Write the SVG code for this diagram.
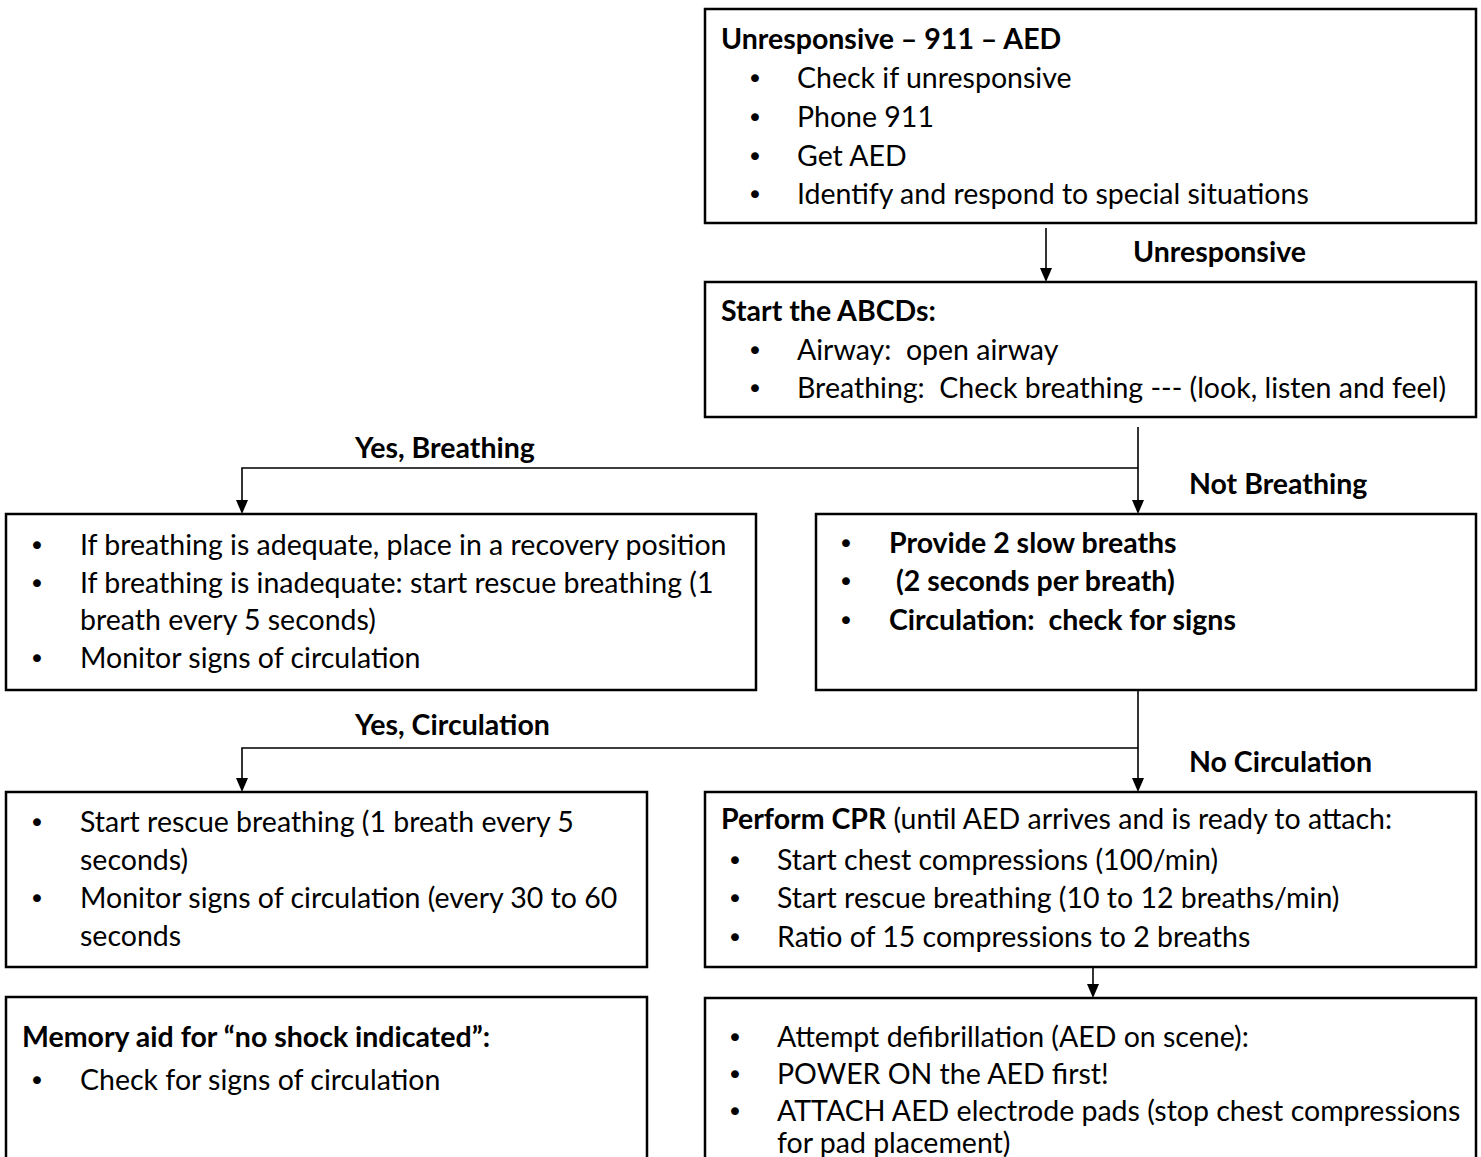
<svg xmlns="http://www.w3.org/2000/svg" width="1481" height="1157" viewBox="0 0 1481 1157">
<style>
  .box { fill: #ffffff; stroke: #000000; stroke-width: 2.5; }
  .t { font-family: Lato, "Open Sans", "Liberation Sans", sans-serif; font-size: 28.5px; fill: #000000; white-space: pre; }
  .b { font-weight: bold; }
  .bul { font-family: "DejaVu Sans", sans-serif; font-size: 27px; fill: #000000; text-anchor: middle; }
  .conn { fill: none; stroke: #000000; stroke-width: 1.6; }
  .head { fill: #000000; }
</style>
<rect width="1481" height="1157" fill="#ffffff"/>

<g id="connectors">
  <path class="conn" d="M1046,228 L1046,268"/>
  <path class="head" d="M1040,268 L1052,268 L1046,282 Z"/>
  <path class="conn" d="M1138,427 L1138,500"/>
  <path class="head" d="M1132,500 L1144,500 L1138,514 Z"/>
  <path class="conn" d="M1138,468 L242,468 L242,500"/>
  <path class="head" d="M236,500 L248,500 L242,514 Z"/>
  <path class="conn" d="M1138,690 L1138,778"/>
  <path class="head" d="M1132,778 L1144,778 L1138,792 Z"/>
  <path class="conn" d="M1138,748 L242,748 L242,778"/>
  <path class="head" d="M236,778 L248,778 L242,792 Z"/>
  <path class="conn" d="M1093,967 L1093,984"/>
  <path class="head" d="M1087,984 L1099,984 L1093,998 Z"/>
  <text class="t b" x="1133" y="262">Unresponsive</text>
  <text class="t b" x="355" y="458">Yes, Breathing</text>
  <text class="t b" x="1189" y="494">Not Breathing</text>
  <text class="t b" x="355" y="735">Yes, Circulation</text>
  <text class="t b" x="1189" y="772">No Circulation</text>
</g>

<g id="node-unresponsive">
  <rect class="box" x="705" y="9" width="771" height="214"/>
  <text class="t b" x="721" y="49">Unresponsive – 911 – AED</text>
  <text class="bul" x="755" y="88">•</text><text class="t" x="797" y="88">Check if unresponsive</text>
  <text class="bul" x="755" y="127">•</text><text class="t" x="797" y="127">Phone 911</text>
  <text class="bul" x="755" y="166">•</text><text class="t" x="797" y="166">Get AED</text>
  <text class="bul" x="755" y="204">•</text><text class="t" x="797" y="204">Identify and respond to special situations</text>
</g>

<g id="node-abcd">
  <rect class="box" x="705" y="282" width="771" height="135"/>
  <text class="t b" x="721" y="321">Start the ABCDs:</text>
  <text class="bul" x="755" y="360">•</text><text class="t" x="797" y="360">Airway:  open airway</text>
  <text class="bul" x="755" y="398">•</text><text class="t" x="797" y="398">Breathing:  Check breathing --- (look, listen and feel)</text>
</g>

<g id="node-yes-breathing">
  <rect class="box" x="6" y="514" width="750" height="176"/>
  <text class="bul" x="37" y="555">•</text><text class="t" x="80" y="555">If breathing is adequate, place in a recovery position</text>
  <text class="bul" x="37" y="593">•</text><text class="t" x="80" y="593">If breathing is inadequate: start rescue breathing (1</text>
  <text class="t" x="80" y="630">breath every 5 seconds)</text>
  <text class="bul" x="37" y="668">•</text><text class="t" x="80" y="668">Monitor signs of circulation</text>
</g>

<g id="node-not-breathing">
  <rect class="box" x="816" y="514" width="660" height="176"/>
  <text class="bul" x="846" y="553">•</text><text class="t b" x="889" y="553">Provide 2 slow breaths</text>
  <text class="bul" x="846" y="591">•</text><text class="t b" x="889" y="591"> (2 seconds per breath)</text>
  <text class="bul" x="846" y="630">•</text><text class="t b" x="889" y="630">Circulation:  check for signs</text>
</g>

<g id="node-yes-circulation">
  <rect class="box" x="6" y="792" width="641" height="175"/>
  <text class="bul" x="37" y="832">•</text><text class="t" x="80" y="832">Start rescue breathing (1 breath every 5</text>
  <text class="t" x="80" y="870">seconds)</text>
  <text class="bul" x="37" y="908">•</text><text class="t" x="80" y="908">Monitor signs of circulation (every 30 to 60</text>
  <text class="t" x="80" y="946">seconds</text>
</g>

<g id="node-cpr">
  <rect class="box" x="705" y="792" width="771" height="175"/>
  <text class="t" x="721" y="829"><tspan class="b">Perform CPR</tspan> (until AED arrives and is ready to attach:</text>
  <text class="bul" x="735" y="870">•</text><text class="t" x="777" y="870">Start chest compressions (100/min)</text>
  <text class="bul" x="735" y="908">•</text><text class="t" x="777" y="908">Start rescue breathing (10 to 12 breaths/min)</text>
  <text class="bul" x="735" y="947">•</text><text class="t" x="777" y="947">Ratio of 15 compressions to 2 breaths</text>
</g>

<g id="node-memory">
  <rect class="box" x="6" y="997" width="641" height="180"/>
  <text class="t b" x="22" y="1047">Memory aid for “no shock indicated”:</text>
  <text class="bul" x="37" y="1090">•</text><text class="t" x="80" y="1090">Check for signs of circulation</text>
</g>

<g id="node-aed">
  <rect class="box" x="705" y="998" width="771" height="180"/>
  <text class="bul" x="735" y="1047">•</text><text class="t" x="777" y="1047">Attempt defibrillation (AED on scene):</text>
  <text class="bul" x="735" y="1084">•</text><text class="t" x="777" y="1084">POWER ON the AED first!</text>
  <text class="bul" x="735" y="1121">•</text><text class="t" x="777" y="1121">ATTACH AED electrode pads (stop chest compressions</text>
  <text class="t" x="777" y="1153">for pad placement)</text>
</g>
</svg>
